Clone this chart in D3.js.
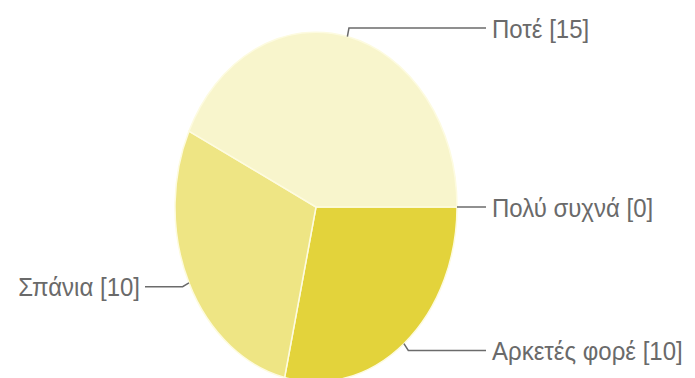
<!DOCTYPE html>
<html>
<head>
<meta charset="utf-8">
<script src="https://cdn.jsdelivr.net/npm/d3@7"></script>
<style>
  body { margin: 0; background: #fff; }
  text { font-family: "Liberation Sans", Arial, sans-serif; }
</style>
</head>
<body>
<div id="pie"></div>
<script>
  // datos del grafico (orden de dibujo, empezando a las 3 en punto)
  var categories = ["Πολύ συχνά", "Αρκετές φορέ", "Σπάνια", "Ποτέ"];
  var values = [0, 10, 10, 15];
  var colors = ["#e3d33b", "#e3d33b", "#eee584", "#f8f5cc"];

  var width = 695, height = 378;
  var cx = 316, cy = 207, r = 141, sy = 1.24;

  var svg = d3.select("#pie")
    .append("svg")
      .attr("width", width)
      .attr("height", height);

  var data = categories.map(function(c, i) { return {name: c, value: values[i], color: colors[i]}; });

  var pie = d3.pie()
    .sort(null)
    .value(function(d) { return d.value; })
    .startAngle(Math.PI / 2)
    .endAngle(Math.PI / 2 + 2 * Math.PI);

  var arcs = pie(data);
  var arc = d3.arc().innerRadius(0).outerRadius(r);

  // el pastel esta estirado en vertical
  var g = svg.append("g")
    .attr("transform", "translate(" + cx + "," + cy + ") scale(1," + sy + ")");

  g.selectAll("path")
    .data(arcs.filter(function(d) { return d.value > 0; }))
    .enter().append("path")
      .attr("d", arc)
      .style("fill", function(d) { return d.data.color; })
      .style("stroke", "#fdfbe0")
      .style("stroke-width", 1.5)
      .attr("vector-effect", "non-scaling-stroke");

  // etiquetas con lineas
  function pt(a, k) {
    return [cx + r * k * Math.sin(a), cy - r * sy * k * Math.cos(a)];
  }

  arcs.forEach(function(d) {
    var a = (d.startAngle + d.endAngle) / 2;
    var p0 = pt(a, 1.0), p1 = pt(a, 1.05);
    var right = Math.sin(a) >= -0.01;
    var xEnd = right ? 486 : 145;
    if (d.value === 0) { p1 = [p0[0], p0[1]]; }

    svg.append("path")
      .attr("d", d3.line()([p0, p1, [xEnd, p1[1]]]))
      .style("fill", "none")
      .style("stroke", "#6b6b6b")
      .style("stroke-width", 1.5);

    svg.append("text")
      .attr("transform", "translate(" + (right ? xEnd + 6 : xEnd - 5) + "," + p1[1] + ") scale(1,1.1)")
      .attr("dy", "0.36em")
      .style("text-anchor", right ? "start" : "end")
      .style("font-size", "24px")
      .style("fill", "#6a6a6a")
      .text(d.data.name + " [" + d.data.value + "]");
  });
</script>
</body>
</html>
